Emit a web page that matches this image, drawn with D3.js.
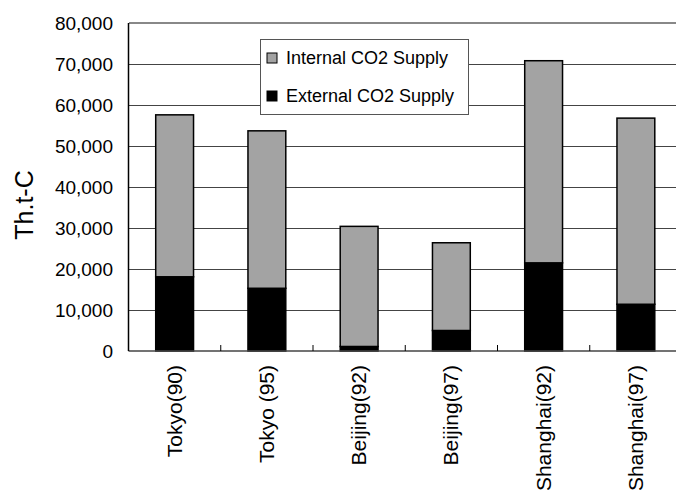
<!DOCTYPE html>
<html><head><meta charset="utf-8">
<script src="https://cdn.jsdelivr.net/npm/d3@7"></script>
<style>body{margin:0;background:#fff}svg{display:block}text{font-family:"Liberation Sans",Arial,sans-serif;fill:#000}</style>
</head><body>
<svg id="c" width="676" height="497"></svg>
<script>
const categories = ["Tokyo(90)", "Tokyo (95)", "Beijing(92)", "Beijing(97)", "Shanghai(92)", "Shanghai(97)"];
const externalSupply = [18100, 15300, 1100, 5000, 21500, 11400];
const totalSupply = [57600, 53700, 30400, 26400, 70800, 56800];
const internalSupply = totalSupply.map((t, i) => t - externalSupply[i]);
const seriesNames = ["Internal CO2 Supply", "External CO2 Supply"];
const yTicks = [0, 10000, 20000, 30000, 40000, 50000, 60000, 70000, 80000];
const yLabel = "Th.t-C";

const svg = d3.select("#c");
const L = 128.5, R = 682, T = 23, B = 351;
const x = d3.scaleBand().domain(categories).range([L, R]).paddingInner(0.59).paddingOuter(0.295);
const y = d3.scaleLinear().domain([0, 80000]).range([B, T]);

// gridlines
svg.append("g").selectAll("line").data(yTicks.filter(d => d > 0)).join("line")
  .attr("x1", L).attr("x2", 676).attr("y1", d => y(d)).attr("y2", d => y(d))
  .attr("stroke", d => d === 80000 ? "#888" : "#444").attr("stroke-width", d => d === 80000 ? 1.5 : 1)
  .attr("shape-rendering", "crispEdges");

// stacked bars
const rows = categories.map((c, i) => ({cat: c, external: externalSupply[i], internal: internalSupply[i]}));
const stack = d3.stack().keys(["external", "internal"])(rows);
const fills = {external: "#000", internal: "#a3a3a3"};
svg.append("g").selectAll("g").data(stack).join("g")
  .attr("fill", d => fills[d.key])
  .selectAll("rect").data(d => d).join("rect")
  .attr("x", d => x(d.data.cat)).attr("width", x.bandwidth())
  .attr("y", d => y(d[1])).attr("height", d => y(d[0]) - y(d[1]))
  .attr("stroke", "#000").attr("stroke-width", 1.5);

// x axis baseline and ticks
const step = x.step();
svg.append("line").attr("x1", L).attr("x2", 676).attr("y1", B).attr("y2", B)
  .attr("stroke", "#444").attr("stroke-width", 1.5);
svg.append("g").selectAll("line").data(categories.slice(1)).join("line")
  .attr("x1", d => x(d) - (step - x.bandwidth()) / 2).attr("x2", d => x(d) - (step - x.bandwidth()) / 2)
  .attr("y1", B).attr("y2", B - 6).attr("stroke", "#000").attr("stroke-width", 1);
// y axis line
svg.append("line").attr("x1", L).attr("x2", L).attr("y1", T).attr("y2", B)
  .attr("stroke", "#000").attr("stroke-width", 1.5);

// y tick labels
const fmt = d3.format(",");
svg.append("g").selectAll("text").data(yTicks).join("text")
  .attr("x", 113).attr("y", d => y(d)).attr("dy", "0.35em").attr("text-anchor", "end")
  .style("font-size", "19px").text(d => fmt(d));

// y label
svg.append("text").attr("transform", "translate(33,205) rotate(-90)").attr("text-anchor", "middle")
  .style("font-size", "25px").text(yLabel);

// x labels
svg.append("g").selectAll("text").data(categories).join("text")
  .attr("transform", d => `translate(${x(d) + x.bandwidth() / 2 + 7},365) rotate(-90)`)
  .attr("text-anchor", "end").style("font-size", "21px").text(d => d);

// legend
const lg = svg.append("g");
lg.append("rect").attr("x", 260.5).attr("y", 39.5).attr("width", 208).attr("height", 75)
  .attr("fill", "#fff").attr("stroke", "#555").attr("stroke-width", 1);
const legendItems = [{name: seriesNames[0], key: "internal", y: 58}, {name: seriesNames[1], key: "external", y: 96}];
legendItems.forEach(it => {
  lg.append("rect").attr("x", 267).attr("y", it.y - 5).attr("width", 10).attr("height", 10)
    .attr("fill", fills[it.key]).attr("stroke", "#000").attr("stroke-width", 1);
  lg.append("text").attr("x", 286).attr("y", it.y).attr("dy", "0.35em")
    .style("font-size", "18px").text(it.name);
});
</script>
</body></html>
